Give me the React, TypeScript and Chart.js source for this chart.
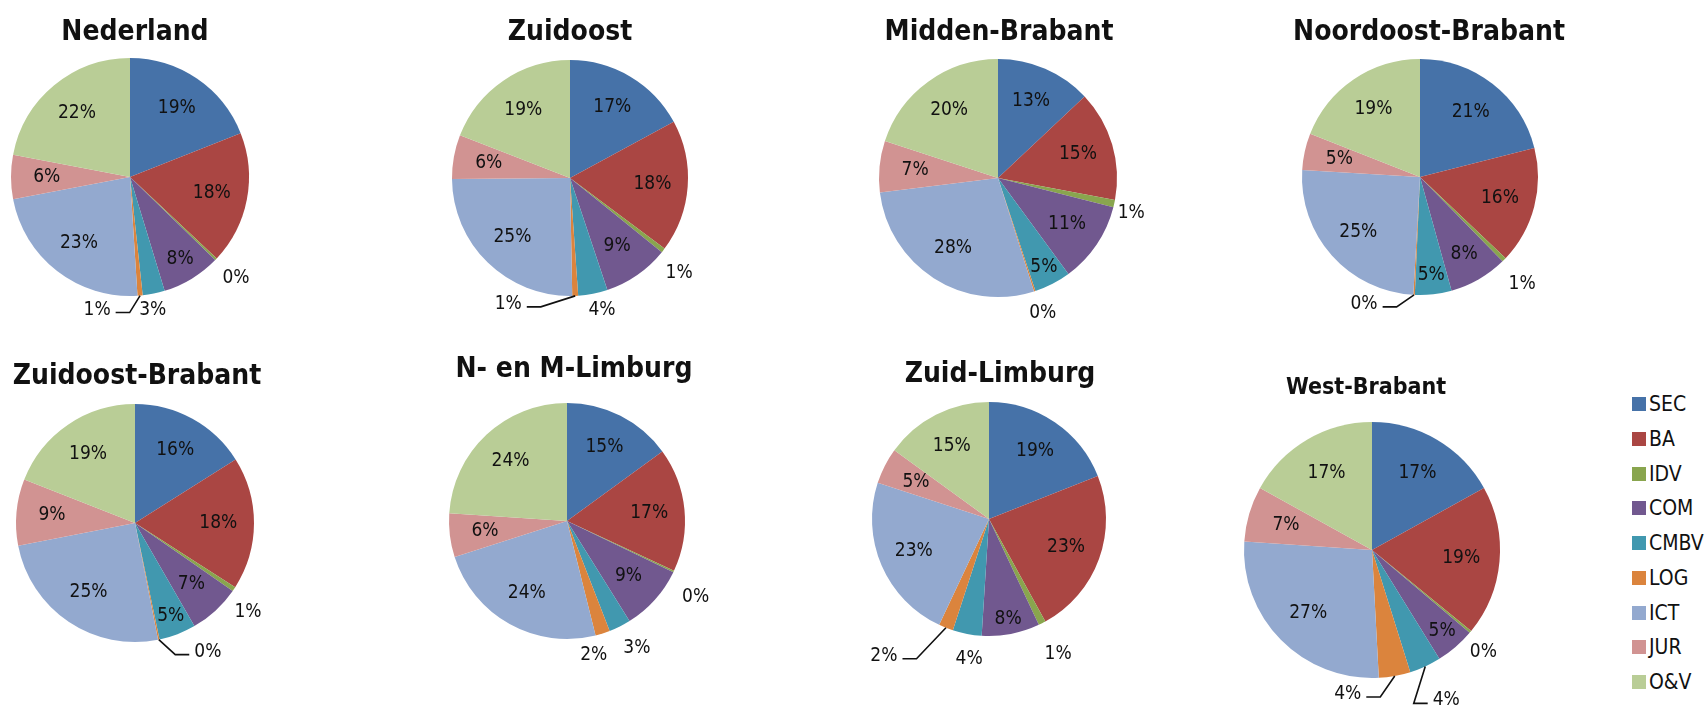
import React, { useEffect, useRef } from 'react';
import { Chart, registerables } from 'chart.js';

Chart.register(...registerables);

// ---------- data ----------
const categories = ['SEC', 'BA', 'IDV', 'COM', 'CMBV', 'LOG', 'ICT', 'JUR', 'O&V'];
const sliceColors = ['#4672A8', '#AA4643', '#89A54E', '#71588F', '#4198AF', '#DB843D', '#93A9CF', '#D19392', '#B9CD96'];
const regionNames = ['Nederland', 'Zuidoost', 'Midden-Brabant', 'Noordoost-Brabant', 'Zuidoost-Brabant', 'N- en M-Limburg', 'Zuid-Limburg', 'West-Brabant'];

const nederland = [19, 18, 0.3, 8, 3, 0.7, 23, 6, 22];
const zuidoost = [17, 18, 0.6, 9, 4, 0.8, 25, 6, 19];
const middenBrabant = [13, 15, 1, 11, 5, 0.2, 28, 7, 20];
const noordoostBrabant = [21, 16, 0.6, 8, 5, 0.2, 25, 5, 19];
const zuidoostBrabant = [16, 18, 0.6, 7, 5, 0.2, 25, 9, 19];
const nmLimburg = [15, 17, 0.2, 9, 3, 2, 24, 6, 24];
const zuidLimburg = [19, 23, 1, 8, 4, 2, 23, 5, 15];
const westBrabant = [17, 19, 0.3, 5, 4, 4, 27, 7, 17];

const regionValues = [nederland, zuidoost, middenBrabant, noordoostBrabant, zuidoostBrabant, nmLimburg, zuidLimburg, westBrabant];

// ---------- layout (positions / styles) ----------
type Layout = {
  cx: number; cy: number; r: number; top: number; height: number;
  titleDx: number; titleBase: number; titleSize: number;
  outside: Record<number, [number, number, boolean?]>;
  insideR?: Record<number, number>;
};

const layouts: Layout[] = [
  { cx: 130, cy: 177, r: 119, top: 0, height: 354, titleDx: 5, titleBase: 40, titleSize: 28,
    outside: { 2: [20, 19], 4: [-1, 16], 5: [-43, 14, true] }, insideR: { 3: 0.81 } },
  { cx: 570, cy: 178, r: 118, top: 0, height: 354, titleDx: 0, titleBase: 40, titleSize: 28,
    outside: { 2: [16, 23], 4: [9, 16], 5: [-67, 8, true] } },
  { cx: 998, cy: 178, r: 119, top: 0, height: 354, titleDx: 1, titleBase: 40, titleSize: 28,
    outside: { 2: [17, 10], 5: [8, 22] } },
  { cx: 1420, cy: 177, r: 118, top: 0, height: 354, titleDx: 9, titleBase: 40, titleSize: 28,
    outside: { 2: [18, 24], 5: [-50, 9, true] }, insideR: { 3: 0.75 } },
  { cx: 135, cy: 523, r: 119, top: 340, height: 368, titleDx: 2, titleBase: 384, titleSize: 28,
    outside: { 2: [14, 23], 5: [49, 12, true] } },
  { cx: 567, cy: 521, r: 118, top: 340, height: 368, titleDx: 7, titleBase: 377, titleSize: 28,
    outside: { 2: [22, 26], 4: [17, 22], 5: [-9, 22] } },
  { cx: 989, cy: 519, r: 117, top: 340, height: 368, titleDx: 11, titleBase: 382, titleSize: 28,
    outside: { 2: [16, 31], 4: [2, 25], 5: [-62, 28, true] }, insideR: { 3: 0.87 } },
  { cx: 1372, cy: 550, r: 128, top: 340, height: 368, titleDx: -6, titleBase: 394, titleSize: 23,
    outside: { 2: [13, 20], 4: [21, 34, true], 5: [-47, 18, true] } },
];

const HALF_W = 215;
const FONT_FAMILY = '"DejaVu Sans Condensed", "DejaVu Sans"';

function setFont(ctx: CanvasRenderingContext2D, spec: string) {
  ctx.font = spec + ' ' + FONT_FAMILY;
  try { (ctx as any).fontStretch = 'condensed'; } catch (e) { /* ignore */ }
}

function makePlugin(name: string, cfg: Layout) {
  return {
    id: 'pieLabels',
    afterDatasetsDraw(chart: any) {
      const ctx: CanvasRenderingContext2D = chart.ctx;
      const meta = chart.getDatasetMeta(0);
      const values = chart.data.datasets[0].data as number[];
      const total = values.reduce((a, b) => a + b, 0);
      ctx.save();
      setFont(ctx, '19px');
      ctx.fillStyle = '#111';
      ctx.strokeStyle = '#111';
      ctx.lineWidth = 1.6;
      ctx.textAlign = 'center';
      ctx.textBaseline = 'middle';
      let cxArc = 0;
      meta.data.forEach((arc: any, i: number) => {
        const p = arc.getProps(['x', 'y', 'startAngle', 'endAngle', 'outerRadius'], true);
        cxArc = p.x;
        const a = (p.startAngle + p.endAngle) / 2;
        const cos = Math.cos(a);
        const sin = Math.sin(a);
        const pct = Math.round((values[i] / total) * 100);
        const text = pct + '%';
        const out = cfg.outside[i];
        if (out) {
          const ex = p.x + p.outerRadius * cos;
          const ey = p.y + p.outerRadius * sin;
          const lx = ex + out[0];
          const ly = ey + out[1];
          ctx.fillText(text, lx, ly);
          if (out[2]) {
            const w = ctx.measureText(text).width;
            const yy = ly + 3;
            let side: number;
            let elbow: number;
            if (lx < ex) {
              side = lx + w / 2 + 5;
              elbow = side + 14;
            } else {
              side = lx - w / 2 - 5;
              elbow = side - 14;
            }
            ctx.beginPath();
            ctx.moveTo(ex, ey);
            ctx.lineTo(elbow, yy);
            ctx.lineTo(side, yy);
            ctx.stroke();
          }
        } else {
          const f = cfg.insideR && cfg.insideR[i] !== undefined
            ? cfg.insideR[i]
            : (pct <= 5 && sin > 0.5 ? 0.84 : 0.7);
          ctx.fillText(text, p.x + p.outerRadius * f * cos, p.y + p.outerRadius * f * sin);
        }
      });
      setFont(ctx, 'bold ' + cfg.titleSize + 'px');
      ctx.textBaseline = 'alphabetic';
      ctx.fillStyle = '#111';
      ctx.fillText(name, cxArc + cfg.titleDx, cfg.titleBase - cfg.top);
      ctx.restore();
    },
  };
}

export default function App() {
  const refs = useRef<(HTMLCanvasElement | null)[]>([]);

  useEffect(() => {
    const charts: Chart[] = [];
    layouts.forEach((cfg, idx) => {
      const canvas = refs.current[idx];
      if (!canvas) return;
      const left = cfg.cx - HALF_W;
      const padding = {
        left: cfg.cx - cfg.r - left,
        right: left + 2 * HALF_W - (cfg.cx + cfg.r),
        top: cfg.cy - cfg.r - cfg.top,
        bottom: cfg.top + cfg.height - (cfg.cy + cfg.r),
      };
      const chart = new Chart(canvas, {
        type: 'pie',
        data: {
          labels: categories,
          datasets: [{
            data: regionValues[idx],
            backgroundColor: sliceColors,
            borderWidth: 0,
          }],
        },
        options: {
          responsive: false,
          maintainAspectRatio: false,
          animation: false,
          events: [],
          layout: { padding },
          plugins: {
            legend: { display: false },
            tooltip: { enabled: false },
            title: { display: false },
          },
        },
        plugins: [makePlugin(regionNames[idx], cfg) as any],
      });
      charts.push(chart);
    });
    return () => charts.forEach((c) => c.destroy());
  }, []);

  const legendTop = 404;
  const legendStep = 34.75;

  return (
    <div style={{ position: 'absolute', left: 0, top: 0, width: 1708, height: 708, overflow: 'hidden', background: '#fff' }}>
      {layouts.map((cfg, idx) => (
        <canvas
          key={idx}
          ref={(el) => { refs.current[idx] = el; }}
          width={2 * HALF_W}
          height={cfg.height}
          style={{ position: 'absolute', left: cfg.cx - HALF_W, top: cfg.top, width: 2 * HALF_W, height: cfg.height }}
        />
      ))}
      {categories.map((c, i) => (
        <React.Fragment key={c}>
          <div style={{
            position: 'absolute', left: 1632, top: legendTop + i * legendStep - 7,
            width: 14, height: 14, background: sliceColors[i],
          }} />
          <div style={{
            position: 'absolute', left: 1649, top: legendTop + i * legendStep - 13,
            height: 26, lineHeight: '26px', fontSize: 21, color: '#111',
            fontFamily: FONT_FAMILY, fontStretch: 'condensed', whiteSpace: 'nowrap',
          }}>{c}</div>
        </React.Fragment>
      ))}
    </div>
  );
}
